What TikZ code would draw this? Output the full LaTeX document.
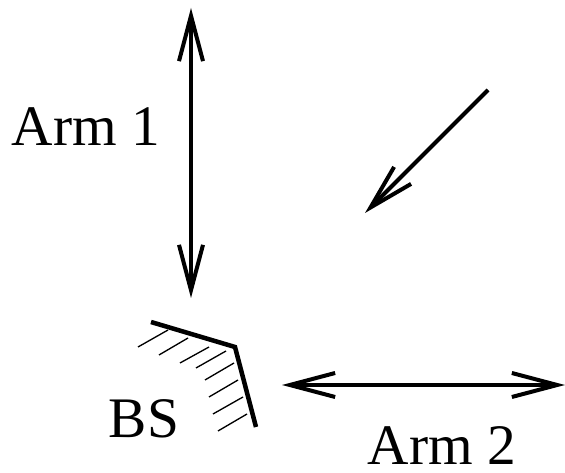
\documentclass[tikz,border=0pt]{standalone}
\usepackage{fontspec}
\setmainfont{Liberation Serif}
\usetikzlibrary{arrows.meta}
\tikzset{barbtip/.tip={Straight Barb[length=34pt,width=18pt,line width=3pt]},
  armline/.style={line width=3pt,barbtip-barbtip},
  raydir/.style={line width=3pt,-barbtip},
  wall/.style={line width=3.4pt},
  hatchline/.style={line width=1pt},
  lbl/.style={font=\fontsize{43}{46}\selectfont,inner sep=0pt,anchor=base}}
\begin{document}
\begin{tikzpicture}[x=0.75pt,y=-0.75pt]
\useasboundingbox (0,0) rectangle (565,473);
\coordinate (a1t) at (191,8);
\coordinate (a1b) at (191,298);
\coordinate (a2l) at (282,385);
\coordinate (a2r) at (565,385);
\coordinate (rs) at (488,90);
\coordinate (re) at (365,213);
\coordinate (w1) at (151,322);
\coordinate (w2) at (235,347);
\coordinate (w3) at (256,427);
\draw[armline] (a1t) -- (a1b);
\draw[armline] (a2l) -- (a2r);
\draw[raydir] (rs) -- (re);
\draw[wall] (w1) -- (w2) -- (w3);
\foreach \xa/\ya/\xb/\yb in {168/330/138/347,188/338/159/355,209/347/180/363,226/351/196/368,234/363/205/380,238/380/209/397,243/397/213/414,247/414/218/431}
  \draw[hatchline] (\xa,\ya) -- (\xb,\yb);
\node[lbl] (arm1) at (86,146) {Arm 1};
\node[lbl] (bs) at (144,438) {BS};
\node[lbl] (arm2) at (442,465) {Arm 2};
\end{tikzpicture}
\end{document}
